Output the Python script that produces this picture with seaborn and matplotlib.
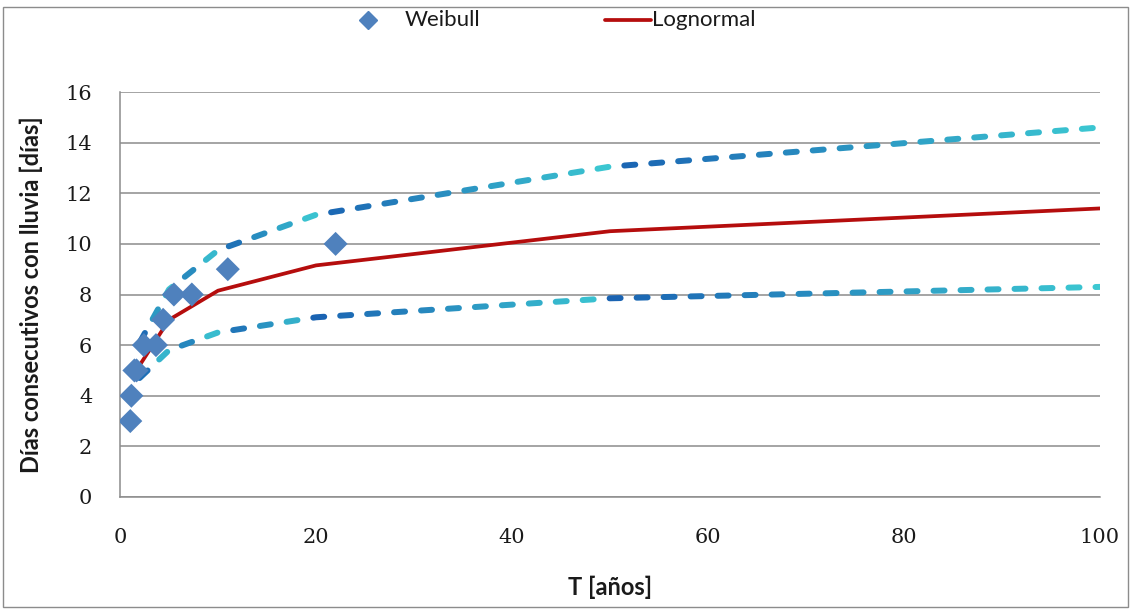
import numpy as np
import matplotlib
matplotlib.use("Agg")
import matplotlib.pyplot as plt
from matplotlib.collections import LineCollection
from matplotlib.lines import Line2D
from matplotlib.patches import Rectangle
from matplotlib.colors import to_rgb
import seaborn as sns

# Observed maxima with Weibull plotting positions
weibull_T = [22.0, 11.0, 7.33, 5.5, 4.4, 3.67, 2.44, 1.69, 1.47, 1.16, 1.05]
weibull_dias = [10, 9, 8, 8, 7, 6, 6, 5, 5, 4, 3]

# Fitted lognormal quantiles and confidence band
T_ret = [2, 5, 10, 20, 50, 100]
lognormal = [5.2, 7.0, 8.15, 9.15, 10.5, 11.4]
banda_sup = [6.1, 8.2, 9.75, 11.15, 13.05, 14.6]
banda_inf = [4.7, 5.8, 6.5, 7.1, 7.85, 8.3]

y_ticks = [0, 2, 4, 6, 8, 10, 12, 14, 16]
x_ticks = [0, 20, 40, 60, 80, 100]

sns.set_theme(style="white")
plt.rcParams["font.family"] = ["Lato", "DejaVu Sans"]

W, H = 1132, 610
fig = plt.figure(figsize=(W / 100, H / 100), dpi=100)
ax = fig.add_axes([120 / W, 1 - 497 / H, 980 / W, 405 / H])
ax.set_xlim(0, 100)
ax.set_ylim(0, 16)

# Grid and spines
ax.set_yticks(y_ticks)
ax.set_xticks(x_ticks)
ax.yaxis.grid(True, color="#8c8c8c", linewidth=1.1)
ax.xaxis.grid(False)
ax.set_axisbelow(True)
for s in ["top", "right"]:
    ax.spines[s].set_visible(False)
for s in ["left", "bottom"]:
    ax.spines[s].set_color("#8c8c8c")
    ax.spines[s].set_linewidth(1.1)
ax.tick_params(axis="both", length=0, labelcolor="#1a1a1a")
ax.tick_params(axis="y", pad=20)
ax.tick_params(axis="x", pad=22)
for lab in ax.get_yticklabels() + ax.get_xticklabels():
    lab.set_fontfamily("DejaVu Serif")
    lab.set_fontsize(15)

ax.set_xlabel("T [años]", fontsize=17, fontweight="bold", color="#1a1a1a",
              labelpad=21)
ax.set_ylabel("Días consecutivos con lluvia [días]", fontsize=17, fontweight="bold",
              color="#1a1a1a", labelpad=16)


def gradient_dashes(ax, xs, ys, c0, c1, dash=11.0, gap=16.0, lw=4.3):
    """Dashed polyline whose colour runs from c0 to c1 along each segment."""
    pts = ax.transData.transform(np.column_stack([xs, ys]))
    seg_len = np.hypot(*np.diff(pts, axis=0).T)
    cum = np.concatenate([[0], np.cumsum(seg_len)])
    total = cum[-1]

    def point_at(s):
        i = min(np.searchsorted(cum, s, side="right") - 1, len(seg_len) - 1)
        f = (s - cum[i]) / seg_len[i]
        return pts[i] + f * (pts[i + 1] - pts[i]), i, f

    a, b = np.array(to_rgb(c0)), np.array(to_rgb(c1))
    segs, cols = [], []
    s = 0.0
    while s < total:
        e = min(s + dash, total)
        path = [point_at(s)[0]]
        for v in cum[1:-1]:
            if s < v < e:
                path.append(pts[np.searchsorted(cum, v)])
        path.append(point_at(e)[0])
        _, i, f = point_at((s + e) / 2)
        segs.append(ax.transData.inverted().transform(np.array(path)))
        cols.append(a + (b - a) * f)
        s += dash + gap
    lc = LineCollection(segs, colors=cols, linewidths=lw, capstyle="round", zorder=3)
    ax.add_collection(lc)


gradient_dashes(ax, T_ret, banda_sup, "#1a62b2", "#3cc8d2")
gradient_dashes(ax, T_ret, banda_inf, "#1a62b2", "#3cc8d2")

sns.lineplot(x=T_ret, y=lognormal, ax=ax, color="#b50d0d", linewidth=2.7, zorder=4)
sns.scatterplot(x=weibull_T, y=weibull_dias, ax=ax, marker="D", s=150,
                color="#4f81bd", edgecolor="none", zorder=5)

ax.set_xlim(0, 100)
ax.set_ylim(0, 16)

# Legend row
ly = 1 - 20 / H
fig.add_artist(Line2D([368 / W], [ly], marker="D", markersize=9,
                      color="#4f81bd", linestyle="none"))
fig.text(405 / W, ly, "Weibull", fontsize=16, va="center", ha="left", color="#1a1a1a")
fig.add_artist(Line2D([605 / W, 651 / W], [ly, ly], color="#b50d0d", linewidth=2.7))
fig.text(652 / W, ly, "Lognormal", fontsize=16, va="center", ha="left", color="#1a1a1a")

# Chart frame
fig.add_artist(Rectangle((3 / W, 3 / H), 1125 / W, 600 / H, transform=fig.transFigure,
                         fill=False, edgecolor="#8c8c8c", linewidth=1.0))

fig.savefig("out.png", dpi=100)
